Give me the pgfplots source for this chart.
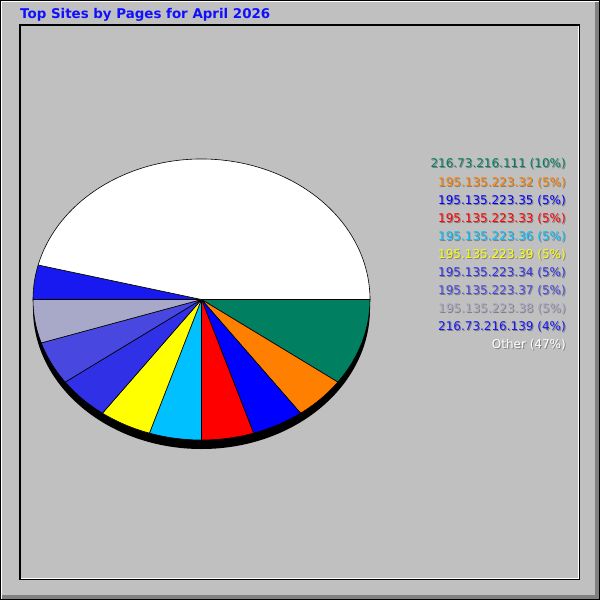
\documentclass[border=0pt]{standalone}
\usepackage{fontspec}
\setmainfont{DejaVu Sans}
\usepackage{pgfplots}
\usepackage{pgfplotstable}
\pgfplotsset{compat=1.18}

\definecolor{bg}{RGB}{192,192,192}
\definecolor{bevel}{RGB}{128,128,128}
\definecolor{titleblue}{RGB}{16,16,255}
\definecolor{c0}{RGB}{0,128,96}
\definecolor{c1}{RGB}{255,128,0}
\definecolor{c2}{RGB}{0,0,255}
\definecolor{c3}{RGB}{255,0,0}
\definecolor{c4}{RGB}{0,192,255}
\definecolor{c5}{RGB}{255,255,0}
\definecolor{c6}{RGB}{48,48,230}
\definecolor{c7}{RGB}{72,72,224}
\definecolor{c8}{RGB}{168,168,200}
\definecolor{c9}{RGB}{24,24,240}
\definecolor{c10}{RGB}{255,255,255}

\tikzset{legtext/.style={anchor=base east, inner sep=0pt,
    font=\fontsize{12bp}{14bp}\selectfont}}

% slice share (pct) and the rounded figure shown in the legend
\pgfplotstableread{
site           pct    shown col
216.73.216.111 10.00  10    c0
195.135.223.32 5.00   5     c1
195.135.223.35 5.00   5     c2
195.135.223.33 5.00   5     c3
195.135.223.36 5.00   5     c4
195.135.223.39 5.00   5     c5
195.135.223.34 5.00   5     c6
195.135.223.37 5.00   5     c7
195.135.223.38 5.00   5     c8
216.73.216.139 3.95   4     c9
Other          46.05  47    c10
}\piedata

\begin{document}
\begin{tikzpicture}
\begin{axis}[
    width=600bp, height=600bp,
    scale only axis,
    hide axis,
    xmin=0, xmax=600,
    ymin=0, ymax=600,
    y dir=reverse,
    enlargelimits=false,
    clip=false
]
% outer frame
\fill[black] (axis cs:0,0) rectangle (axis cs:600,600);
\fill[white] (axis cs:1,1) rectangle (axis cs:599,599);
\fill[bevel] (axis cs:2,2) rectangle (axis cs:599,599);
\fill[bg] (axis cs:2,2) rectangle (axis cs:595,595);
% inner panel
\fill[black] (axis cs:19,24) rectangle (axis cs:580,580);
\fill[white] (axis cs:21,26) rectangle (axis cs:579,579);
\fill[bg] (axis cs:21,26) rectangle (axis cs:578,578);

\node[anchor=base west, inner sep=0pt, text=titleblue,
      font=\fontsize{13.4bp}{15bp}\selectfont\bfseries]
  at (axis cs:20,19) {Top Sites by Pages for April 2026};

% depth of the pie
\fill[black] (axis cs:201.5,308.5) ellipse[x radius=168.5bp, y radius=140.5bp];

\def\acc{0}
\pgfplotsforeachungrouped \i in {0,...,10}{%
  \pgfplotstablegetelem{\i}{pct}\of\piedata \let\p\pgfplotsretval
  \pgfplotstablegetelem{\i}{col}\of\piedata \let\c\pgfplotsretval
  \pgfplotstablegetelem{\i}{site}\of\piedata \let\s\pgfplotsretval
  \pgfplotstablegetelem{\i}{shown}\of\piedata \let\w\pgfplotsretval
  \pgfmathsetmacro\aS{-3.6*\acc}
  \pgfmathsetmacro\acc{\acc+\p}
  \pgfmathsetmacro\aE{-3.6*\acc}
  \pgfmathsetmacro\ly{168+18*\i}
  \pgfmathsetmacro\lys{169+18*\i}
  \edef\temp{%
    \noexpand\filldraw[fill=\c, draw=black, line width=0.6bp, line join=round]
      (axis cs:201.5,299.5) -- ++(\aS:168.5bp and 140.5bp)
      arc[start angle=\aS, end angle=\aE, x radius=168.5bp, y radius=140.5bp]
      -- cycle;
    \noexpand\node[legtext, text=bevel] at (axis cs:567,\lys)
      {\s{} (\w\noexpand\%)};
    \noexpand\node[legtext, text=\c] at (axis cs:566,\ly)
      {\s{} (\w\noexpand\%)};
  }\temp
}
\end{axis}
\end{tikzpicture}
\end{document}
